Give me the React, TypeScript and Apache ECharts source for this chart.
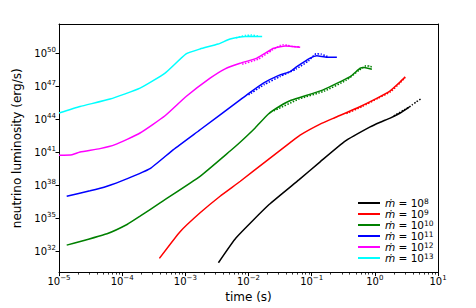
import React, { useEffect, useRef } from "react";
import * as echarts from "echarts";

// Accretion-rate exponents (mdot = 10^e) and their colours
const exponents = [8, 9, 10, 11, 12, 13];
const colors = ["#000000", "#ff0000", "#008000", "#0000ff", "#ff00ff", "#00ffff"];

// Solid curves: log10(time / s) and log10(L / erg s^-1)
const logT8 = [-2.476, -2.196, -1.674, -1.198, -0.866, -0.47, -0.074, 0.085, 0.243, 0.402, 0.544];
const logL8 = [30.94, 33.21, 36.23, 38.5, 40.12, 42.0, 43.3, 43.72, 44.1, 44.56, 45.1];
const logT9 = [-3.411, -3.083, -2.766, -2.45, -2.13, -1.689, -1.341, -1.183, -0.866, -0.628, -0.28, 0.037, 0.243, 0.402, 0.481];
const logL9 = [31.33, 33.76, 35.48, 36.99, 38.35, 40.32, 41.86, 42.55, 43.55, 44.15, 45.02, 45.92, 46.58, 47.4, 47.85];
const logT10 = [-4.878, -4.24, -3.923, -3.717, -3.4, -2.767, -2.291, -2.133, -1.895, -1.689, -1.5, -1.325, -0.818, -0.39, -0.232, -0.169, -0.047];
const logL10 = [32.54, 33.58, 34.42, 35.17, 36.39, 38.8, 41.1, 41.9, 43.2, 44.45, 45.2, 45.72, 46.67, 47.88, 48.64, 48.71, 48.55];
const logT11 = [-4.878, -4.509, -4.24, -3.928, -3.559, -3.189, -2.766, -2.133, -2.027, -1.764, -1.501, -1.341, -1.235, -1.024, -0.918, -0.76, -0.601];
const logL11 = [36.99, 37.48, 37.9, 38.57, 39.5, 41.23, 43.04, 45.76, 46.22, 47.28, 48.03, 48.33, 48.78, 49.55, 49.78, 49.64, 49.64];
const logT12 = [-5.0, -4.794, -4.667, -4.351, -4.113, -3.717, -3.321, -2.988, -2.608, -2.37, -2.133, -1.868, -1.605, -1.499, -1.42, -1.182];
const logL12 = [40.71, 40.77, 41.02, 41.32, 41.68, 42.74, 44.31, 46.06, 47.73, 48.58, 49.09, 49.55, 50.45, 50.6, 50.66, 50.54];
const logT13 = [-5.0, -4.667, -4.192, -3.717, -3.321, -2.988, -2.766, -2.481, -2.291, -2.133, -1.974, -1.784];
const logL13 = [44.56, 45.15, 45.83, 46.82, 48.19, 49.94, 50.39, 50.84, 51.3, 51.48, 51.54, 51.52];

// Dotted curves (late-time comparison runs)
const dotT8 = [0.3, 0.45, 0.544, 0.59, 0.65, 0.73];
const dotL8 = [44.3, 44.8, 45.1, 45.3, 45.55, 45.85];
const dotT9 = [-0.45, -0.2, 0.05, 0.25, 0.4, 0.48];
const dotL9 = [44.5, 45.15, 45.9, 46.5, 47.3, 47.8];
const dotT10 = [-1.6, -1.2, -0.8, -0.45, -0.25, -0.14, -0.07, -0.03];
const dotL10 = [44.75, 45.83, 46.55, 47.55, 48.45, 48.85, 48.82, 48.62];
const dotT11 = [-2.0, -1.75, -1.5, -1.25, -1.05, -0.93, -0.85, -0.75];
const dotL11 = [46.2, 47.15, 47.88, 48.55, 49.3, 49.95, 49.92, 49.7];
const dotT12 = [-2.1, -1.85, -1.62, -1.5, -1.45, -1.38, -1.3, -1.2];
const dotL12 = [49.0, 49.45, 50.3, 50.7, 50.78, 50.72, 50.62, 50.58];
const dotT13 = [-2.2, -2.05, -1.95, -1.85];
const dotL13 = [51.4, 51.62, 51.65, 51.58];

const solidT = [logT8, logT9, logT10, logT11, logT12, logT13];
const solidL = [logL8, logL9, logL10, logL11, logL12, logL13];
const dottedT = [dotT8, dotT9, dotT10, dotT11, dotT12, dotT13];
const dottedL = [dotL8, dotL9, dotL10, dotL11, dotL12, dotL13];

// Axis ticks (log10 exponents)
const xTicks = [-5, -4, -3, -2, -1, 0, 1];
const yTicks = [32, 35, 38, 41, 44, 47, 50];
const xMin = -5;
const xMax = 1;
const yMin = 30.04;
const yMax = 52.66;

const minorX: number[] = [];
for (let n = -5; n < 1; n++) {
  for (let k = 2; k <= 9; k++) minorX.push(n + Math.log10(k));
}

const FONT = "DejaVu Sans";

const expLabel = (v: number) => {
  const e = Math.round(v);
  const s = e < 0 ? "\u2212" + -e : String(e);
  return `{b|10}{s|${s}}`;
};

const tickRich = {
  b: { fontSize: 10, fontFamily: FONT, color: "#000", lineHeight: 13 },
  s: { fontSize: 7, fontFamily: FONT, color: "#000", lineHeight: 8, verticalAlign: "top" },
};

export default function App() {
  const ref = useRef<HTMLDivElement>(null);

  useEffect(() => {
    if (!ref.current) return;
    const chart = echarts.init(ref.current, null, { renderer: "svg" });

    const names = exponents.map((e) => "mdot" + e);
    const series: any[] = [];
    exponents.forEach((e, i) => {
      series.push({
        name: names[i],
        type: "line",
        xAxisIndex: 0,
        yAxisIndex: 0,
        data: solidT[i].map((t, j) => [t, solidL[i][j]]),
        showSymbol: false,
        smooth: 0.15,
        lineStyle: { color: colors[i], width: 1.5 },
        itemStyle: { color: colors[i] },
        z: 2,
      });
    });
    exponents.forEach((e, i) => {
      series.push({
        name: names[i] + "_dotted",
        type: "line",
        xAxisIndex: 0,
        yAxisIndex: 0,
        data: dottedT[i].map((t, j) => [t, dottedL[i][j]]),
        showSymbol: false,
        smooth: 0.15,
        lineStyle: { color: colors[i], width: 1.5, type: "dotted" },
        itemStyle: { color: colors[i] },
        z: 3,
      });
    });

    chart.setOption({
      animation: false,
      backgroundColor: "#fff",
      grid: { left: 59, right: 38, top: 24, bottom: 35, containLabel: false },
      xAxis: [
        {
          type: "value",
          min: xMin,
          max: xMax,
          interval: 1,
          position: "bottom",
          name: "time (s)",
          nameLocation: "middle",
          nameGap: 18,
          nameTextStyle: { fontFamily: FONT, fontSize: 12, color: "#000" },
          axisLine: { show: true, onZero: false, lineStyle: { color: "#000", width: 1 } },
          axisTick: { show: true, length: 3.5, lineStyle: { color: "#000", width: 1 } },
          axisLabel: { formatter: expLabel, rich: tickRich, margin: 2, color: "#000" },
          splitLine: { show: false },
        },
        {
          type: "value",
          min: xMin,
          max: xMax,
          position: "bottom",
          axisLine: { show: false },
          axisTick: { show: true, length: 2, customValues: minorX, lineStyle: { color: "#000", width: 0.8 } },
          axisLabel: { show: false },
          splitLine: { show: false },
        },
        {
          type: "value",
          min: xMin,
          max: xMax,
          position: "top",
          axisLine: { show: true, onZero: false, lineStyle: { color: "#000", width: 1 } },
          axisTick: { show: false },
          axisLabel: { show: false },
          splitLine: { show: false },
        },
      ],
      yAxis: [
        {
          type: "value",
          min: yMin,
          max: yMax,
          position: "left",
          name: "neutrino luminosity (erg/s)",
          nameLocation: "middle",
          nameGap: 31,
          nameTextStyle: { fontFamily: FONT, fontSize: 12, color: "#000" },
          axisLine: { show: true, onZero: false, lineStyle: { color: "#000", width: 1 } },
          axisTick: { show: true, length: 3.5, customValues: yTicks, lineStyle: { color: "#000", width: 1 } },
          axisLabel: { customValues: yTicks, formatter: expLabel, rich: tickRich, margin: 3, color: "#000" },
          splitLine: { show: false },
        },
        {
          type: "value",
          min: yMin,
          max: yMax,
          position: "right",
          axisLine: { show: true, onZero: false, lineStyle: { color: "#000", width: 1 } },
          axisTick: { show: false },
          axisLabel: { show: false },
          splitLine: { show: false },
        },
      ],
      legend: {
        data: names.map((n, i) => ({ name: n, icon: "rect", itemStyle: { color: colors[i] } })),
        orient: "vertical",
        left: 358,
        top: 197.5,
        padding: 0,
        itemGap: 0,
        itemWidth: 22,
        itemHeight: 2,
        selectedMode: false,
        formatter: (name: string) => {
          const e = name.replace("mdot", "");
          return `{m|\u1E41}{t| = 10}{s|${e}}`;
        },
        textStyle: {
          fontFamily: FONT,
          fontSize: 10.5,
          color: "#000",
          rich: {
            m: { fontFamily: FONT, fontSize: 10.5, fontStyle: "italic", color: "#000", lineHeight: 11 },
            t: { fontFamily: FONT, fontSize: 10.5, color: "#000", lineHeight: 11 },
            s: { fontFamily: FONT, fontSize: 7.5, color: "#000", lineHeight: 7, verticalAlign: "top" },
          },
        },
      },
      series,
    });

    return () => chart.dispose();
  }, []);

  return (
    <div
      ref={ref}
      style={{ position: "fixed", left: 0, top: 0, width: 476, height: 308 }}
    />
  );
}
